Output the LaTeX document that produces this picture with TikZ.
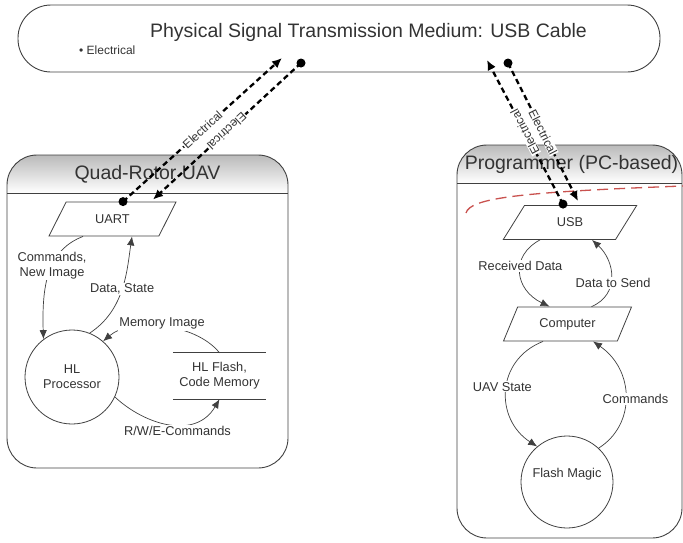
\documentclass[tikz,border=0pt]{standalone}
\usepackage{fontspec}
\setmainfont{Liberation Sans}
\usepackage{tikz}
\usetikzlibrary{arrows.meta,shapes.geometric,positioning}

\definecolor{linegray}{HTML}{404040}
\definecolor{txtgray}{HTML}{333333}
\definecolor{hdrgray}{HTML}{BABABA}
\definecolor{dashred}{HTML}{C9524F}

\newcommand{\ttlfont}{\fontsize{19.5}{22}\selectfont}
\newcommand{\lblfont}{\fontsize{12.8}{15}\selectfont}

\tikzset{
  boxline/.style={draw=linegray, line width=0.9pt},
  parbox/.style={trapezium, trapezium left angle=64, trapezium right angle=116,
                 trapezium stretches=true, draw=linegray, line width=0.8pt,
                 minimum height=34pt, font=\lblfont, text=txtgray},
  procnode/.style={circle, draw=linegray, line width=0.8pt, font=\lblfont,
                   text=txtgray, align=center, inner sep=0pt},
  lbl/.style={font=\lblfont, text=txtgray, align=center, fill=white, inner sep=1pt},
  flow/.style={draw=linegray, line width=0.7pt, -{Latex[length=9pt,width=7.5pt]}},
  elec/.style={draw=black, line width=2.3pt, dash pattern=on 5.5pt off 3.5pt,
               -{Latex[length=10pt,width=9pt]}},
  elabel/.style={font=\fontsize{12}{13}\selectfont, text=txtgray, fill=white,
                 inner sep=0.5pt, sloped, allow upside down, midway},
}

\begin{document}
\begin{tikzpicture}[x=1pt,y=-1pt]
  \useasboundingbox (0,0) rectangle (683,542);

  % the cable
  \node[boxline, rounded corners=33pt, minimum width=642pt, minimum height=67pt] (cable) at (339,38.5) {};
  \node[anchor=base, font=\ttlfont, text=txtgray] (cabletitle) at (368.5,37) {Physical Signal Transmission Medium: USB Cable};
  \node[anchor=base west, font=\fontsize{12}{13}\selectfont, text=txtgray, inner sep=0pt] (cablenote) at (79,54) {\textbullet\ Electrical};

  % Quad-Rotor UAV
  \shade[top color=hdrgray, bottom color=white] (7,193) [rounded corners=30pt] -- (7,155) -- (288,155) [sharp corners] -- (288,193) -- cycle;
  \draw[boxline, rounded corners=30pt] (7,155) rectangle (288,468);
  \draw[boxline] (7,193) -- (288,193);
  \node[font=\ttlfont, text=txtgray] (quadtitle) at (147.5,174) {Quad-Rotor UAV};

  % Programmer
  \shade[top color=hdrgray, bottom color=white] (457,183) [rounded corners=30pt] -- (457,145) -- (682,145) [sharp corners] -- (682,183) -- cycle;
  \draw[boxline, rounded corners=30pt] (457,145) rectangle (682,538);
  \draw[boxline] (457,183) -- (682,183);
  \node[font=\ttlfont, text=txtgray] (progtitle) at (571.5,164) {Programmer (PC-based)};
  \draw[dashred, line width=1.3pt, dash pattern=on 11pt off 6pt] (466,213) .. controls (470,198) and (520,192) .. (683,186);

  \node[parbox, minimum width=127pt] (uart) at (112.5,219) {UART};
  \node[procnode, minimum size=94pt] (proc) at (72,377) {HL\\Processor};
  \node[font=\lblfont, text=txtgray, align=center, minimum width=93pt, minimum height=46pt, inner sep=0pt] (flash) at (219.5,376) {HL Flash,\\Code Memory};
  \draw[linegray, line width=0.8pt] (flash.north west) -- (flash.north east) (flash.south west) -- (flash.south east);

  \node[parbox, minimum width=134pt] (usb) at (570,222.5) {USB};
  \node[parbox, minimum width=129pt] (comp) at (567.5,324) {Computer};
  \node[procnode, minimum size=92pt, text depth=18pt] (fmagic) at (567,482) {Flash Magic};

  % electrical links
  \coordinate (cabA) at (282,58);
  \coordinate (cabB) at (301,63);
  \coordinate (cabC) at (487,60);
  \coordinate (cabD) at (508,63);
  \coordinate (uartdot) at ([xshift=10.5pt]uart.north);
  \coordinate (usbdot) at ([xshift=-7pt,yshift=1pt]usb.north);

  \path[elec] (uartdot) -- (cabA) node[elabel] {Electrical};
  \path[elec] (cabB) -- ([xshift=40.5pt,yshift=2pt]uart.north) node[elabel] {Electrical};
  \path[elec] (usbdot) -- (cabC) node[elabel] {Electrical};
  \path[elec] (cabD) -- ([xshift=8pt,yshift=4pt]usb.north) node[elabel] {Electrical};
  \foreach \d in {uartdot,usbdot,cabB,cabD}
    \fill (\d) circle (4.5pt);

  % flows inside the UAV
  \draw[flow] ([xshift=-29.5pt]uart.south) .. controls +(-33,13) and +(-2,-60) .. (proc.127)
    node[lbl, pos=0.45] {Commands,\\New Image};
  \draw[flow] (proc.68) .. controls +(35,-23) and +(-5,34) .. ([xshift=19.5pt]uart.south)
    node[lbl, midway] {Data, State};
  \draw[flow] (flash.north) .. controls +(-25,-31) and +(27,-23) .. (proc.49)
    node[lbl, midway, yshift=3pt] {Memory Image};
  \draw[flow] (proc.-25) .. controls +(30,28) and +(-24,41) .. (flash.south)
    node[lbl, midway, xshift=8pt, yshift=-7pt] {R/W/E-Commands};

  % flows inside the programmer
  \draw[flow] ([xshift=-30pt]usb.south) .. controls +(-30,16) and +(-35,-17) .. ([xshift=-18pt]comp.north)
    node[lbl, midway, yshift=7pt] {Received Data};
  \draw[flow] ([xshift=24pt]comp.north) .. controls +(28.5,-12) and +(23,21) .. ([xshift=22pt]usb.south)
    node[lbl, midway, xshift=2pt, yshift=-6.5pt] {Data to Send};
  \draw[flow] ([xshift=-24.5pt]comp.south) .. controls +(-48,19) and +(-42,-27) .. (fmagic.130)
    node[lbl, midway, xshift=-4pt, yshift=4pt] {UAV State};
  \draw[flow] (fmagic.47) .. controls +(37,-23) and +(42,29) .. ([xshift=25.5pt]comp.south)
    node[lbl, midway, xshift=10pt, yshift=-2pt] {Commands};
\end{tikzpicture}
\end{document}
